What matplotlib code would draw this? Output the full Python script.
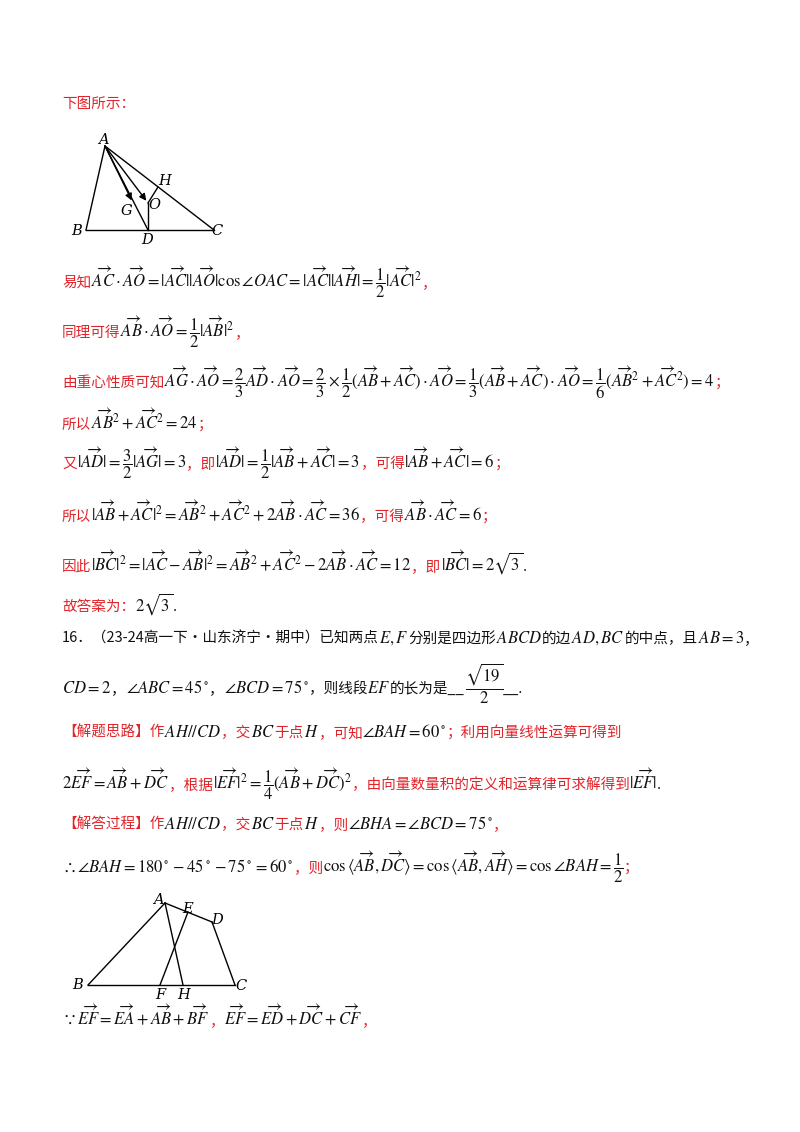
import matplotlib
matplotlib.use("Agg")
import matplotlib.pyplot as plt

plt.rcParams['mathtext.fontset'] = 'stix'
plt.rcParams['font.family'] = ['Noto Sans CJK SC', 'DejaVu Sans']

RED = "#e0242a"
BLK = "#111111"

# figure 1 points (triangle ABC, centroid line)
tri1 = {"A": (105, 146), "B": (86, 230), "C": (214, 230), "D": (148, 230),
        "O": (148, 203), "H": (158, 187), "G": (133, 203)}
tri1_segs = [("A", "B"), ("B", "C"), ("A", "C"), ("A", "D"), ("D", "O"), ("O", "H")]
tri1_arrows = [("A", "O"), ("A", "G")]
tri1_lab = {"A": (-2, -6), "B": (-9, 1), "C": (3, 1), "D": (-1, 10),
            "O": (6, 2), "H": (7, -6), "G": (-7, 8)}

# figure 2 points (quadrilateral ABCD)
quad = {"A": (165, 903), "B": (88, 985), "C": (235, 985), "D": (212, 922),
        "E": (188, 912), "F": (160, 985), "H": (183, 985)}
quad_segs = [("B", "C"), ("B", "A"), ("A", "D"), ("D", "C"), ("A", "H"), ("E", "F")]
quad_lab = {"A": (-7, -3), "B": (-10, 0), "C": (6, 1), "D": (5, -2),
            "E": (0, -3), "F": (0, 10), "H": (1, 10)}

V = r"\overrightarrow{%s}"
def v(s):
    return V % s

lines = [
    (108, [("下图所示：", RED)]),
    (287, [("易知", RED),
           ("$" + v("AC") + r"\cdot" + v("AO") + "=|" + v("AC") + "||" + v("AO") + r"|\cos\angle OAC=|"
            + v("AC") + "||" + v("AH") + r"|=\dfrac{1}{2}|" + v("AC") + "|^2$", BLK), ("，", RED)]),
    (337, [("同理可得", RED), ("$" + v("AB") + r"\cdot" + v("AO") + r"=\dfrac{1}{2}|" + v("AB") + "|^2$", BLK),
           ("，", RED)]),
    (387, [("由重心性质可知", RED),
           ("$" + v("AG") + r"\cdot" + v("AO") + r"=\dfrac{2}{3}" + v("AD") + r"\cdot" + v("AO")
            + r"=\dfrac{2}{3}\times\dfrac{1}{2}(" + v("AB") + "+" + v("AC") + r")\cdot" + v("AO")
            + r"=\dfrac{1}{3}(" + v("AB") + "+" + v("AC") + r")\cdot" + v("AO")
            + r"=\dfrac{1}{6}(" + v("AB") + "^2+" + v("AC") + "^2)=4$", BLK), ("；", RED)]),
    (429, [("所以", RED), ("$" + v("AB") + "^2+" + v("AC") + "^2=24$", BLK), ("；", RED)]),
    (468, [("又", RED), ("$|" + v("AD") + r"|=\dfrac{3}{2}|" + v("AG") + "|=3$", BLK), ("，即", RED),
           ("$|" + v("AD") + r"|=\dfrac{1}{2}|" + v("AB") + "+" + v("AC") + "|=3$", BLK), ("，可得", RED),
           ("$|" + v("AB") + "+" + v("AC") + "|=6$", BLK), ("；", RED)]),
    (521, [("所以", RED), ("$|" + v("AB") + "+" + v("AC") + "|^2=" + v("AB") + "^2+" + v("AC") + "^2+2"
                           + v("AB") + r"\cdot" + v("AC") + "=36$", BLK), ("，可得", RED),
           ("$" + v("AB") + r"\cdot" + v("AC") + "=6$", BLK), ("；", RED)]),
    (571, [("因此", RED), ("$|" + v("BC") + "|^2=|" + v("AC") + "-" + v("AB") + "|^2=" + v("AB") + "^2+"
                           + v("AC") + "^2-2" + v("AB") + r"\cdot" + v("AC") + "=12$", BLK), ("，即", RED),
           ("$|" + v("BC") + r"|=2\sqrt{3}$", BLK), (".", BLK)]),
    (611, [("故答案为：", RED), (r"$2\sqrt{3}$", BLK), (".", BLK)]),
    (643, [("16．（23-24高一下·山东济宁·期中）已知两点", BLK), ("$E,F$", BLK), ("分别是四边形", BLK),
           ("$ABCD$", BLK), ("的边", BLK), ("$AD,BC$", BLK), ("的中点，且", BLK), ("$AB=3$", BLK), ("，", BLK)]),
    (693, [("$CD=2$", BLK), ("，", BLK), (r"$\angle ABC=45^\circ$", BLK), ("，", BLK),
           (r"$\angle BCD=75^\circ$", BLK), ("，则线段", BLK), ("$EF$", BLK), ("的长为是__", BLK),
           (r"$\dfrac{\sqrt{19}}{2}$", BLK), ("__.", BLK)]),
    (737, [("【解题思路】作", RED), ("$AH//CD$", BLK), ("，交", RED), ("$BC$", BLK), ("于点", RED),
           ("$H$", BLK), ("，可知", RED), (r"$\angle BAH=60^\circ$", BLK), ("；利用向量线性运算可得到", RED)]),
    (789, [("$2" + v("EF") + "=" + v("AB") + "+" + v("DC") + "$", BLK), ("，根据", RED),
           ("$|" + v("EF") + r"|^2=\dfrac{1}{4}(" + v("AB") + "+" + v("DC") + ")^2$", BLK),
           ("，由向量数量积的定义和运算律可求解得到", RED), ("$|" + v("EF") + "|$", BLK), (".", BLK)]),
    (829, [("【解答过程】作", RED), ("$AH//CD$", BLK), ("，交", RED), ("$BC$", BLK), ("于点", RED),
           ("$H$", BLK), ("，则", RED), (r"$\angle BHA=\angle BCD=75^\circ$", BLK), ("，", RED)]),
    (872, [(r"$\therefore\angle BAH=180^\circ-45^\circ-75^\circ=60^\circ$", BLK), ("，则", RED),
           (r"$\cos\langle" + v("AB") + "," + v("DC") + r"\rangle=\cos\langle" + v("AB") + "," + v("AH")
            + r"\rangle=\cos\angle BAH=\dfrac{1}{2}$", BLK), ("；", RED)]),
    (1025, [(r"$\because" + v("EF") + "=" + v("EA") + "+" + v("AB") + "+" + v("BF") + "$", BLK), ("，", RED),
            ("$" + v("EF") + "=" + v("ED") + "+" + v("DC") + "+" + v("CF") + "$", BLK), ("，", RED)]),
]

fig = plt.figure(figsize=(8, 11.32), dpi=100)
ax = fig.add_axes([0, 0, 1, 1])
ax.set_xlim(0, 800)
ax.set_ylim(1132, 0)
ax.axis("off")
fig.canvas.draw()
renderer = fig.canvas.get_renderer()

for y, segs in lines:
    x = 62
    for s, c in segs:
        fs = 12 if s.startswith("$") else 10.5
        t = ax.text(x, y, s, color=c, fontsize=fs, va="baseline", ha="left")
        x += t.get_window_extent(renderer).width

def draw_fig(pts, segs, labels, arrows=()):
    for a, b in segs:
        ax.plot([pts[a][0], pts[b][0]], [pts[a][1], pts[b][1]], color="black", lw=1)
    for a, b in arrows:
        ax.annotate("", xy=pts[b], xytext=pts[a],
                    arrowprops=dict(arrowstyle="-|>", color="black", lw=1, mutation_scale=10))
    for k, (dx, dy) in labels.items():
        ax.text(pts[k][0] + dx, pts[k][1] + dy, k, fontsize=10.5, style="italic",
                family="DejaVu Serif", ha="center", va="center")

draw_fig(tri1, tri1_segs, tri1_lab, tri1_arrows)
draw_fig(quad, quad_segs, quad_lab)

fig.savefig("out.png", dpi=100)
